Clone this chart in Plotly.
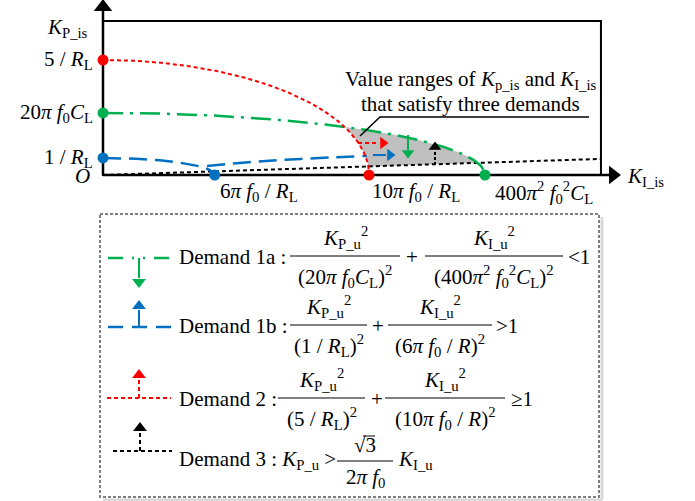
import numpy as np
import plotly.graph_objects as go

# ---------------- data (schematic units) ----------------
kp_tick_values = [5.0, 2.7, 0.74]
kp_tick_labels = ["5 / <i>R</i><sub>L</sub>",
                  "20<i>π f</i><sub>0</sub><i>C</i><sub>L</sub>",
                  "1 / <i>R</i><sub>L</sub>"]
ki_tick_values = [4.2, 10.0, 14.36]
ki_tick_labels = ["6<i>π f</i><sub>0</sub> / <i>R</i><sub>L</sub>",
                  "10<i>π f</i><sub>0</sub> / <i>R</i><sub>L</sub>",
                  "400<i>π</i><sup>2</sup> <i>f</i><sub>0</sub><sup>2</sup><i>C</i><sub>L</sub>"]

# ellipse intercepts (K_I intercept, K_P intercept)
demand1a_ki, demand1a_kp = 14.36, 2.7    # green
demand1b_ki, demand1b_kp = 4.2, 0.74     # blue
demand2_ki, demand2_kp = 10.0, 5.0       # red
demand3_ki = [0.0, 18.72]                # black line
demand3_kp = [0.0, 0.70]
blue_branch_ki = [3.91, 5.56, 7.44, 9.92]
blue_branch_kp = [0.39, 0.565, 0.70, 0.83]
frame_ki, frame_kp = 18.72, 6.7

# ---------------- layout constants (pixels) ----------------
W, H = 695, 501
OX, OY = 103, 175      # origin pixel
SX, SY = 26.6, 23.0    # px per unit

def kx(px):
    return (px - OX) / SX

def ky(py):
    return (OY - py) / SY

RED = "#ff0000"
GREEN = "#00b050"
BLUE = "#0070c0"
BLACK = "#000000"
FONT = "Liberation Serif"
FS = 21

def ellipse(ki0, kp0, n=400):
    t = np.linspace(0, ki0, n)
    return t, kp0 * np.sqrt(np.clip(1 - (t / ki0) ** 2, 0, None))

fig = go.Figure()

# gray region satisfying all demands
t = np.linspace(0, demand1a_ki, 3000)
g = demand1a_kp * np.sqrt(np.clip(1 - (t / demand1a_ki) ** 2, 0, None))
r = np.where(t <= demand2_ki, demand2_kp * np.sqrt(np.clip(1 - (t / demand2_ki) ** 2, 0, None)), 0)
b = np.interp(t, demand3_ki, demand3_kp)
lo = np.maximum(r, b)
m = g > lo
fig.add_trace(go.Scatter(x=np.concatenate([t[m], t[m][::-1]]),
                         y=np.concatenate([lo[m], g[m][::-1]]),
                         fill="toself", fillcolor="rgb(191,191,191)",
                         line=dict(width=0), mode="lines", hoverinfo="skip"))

# frame
fig.add_shape(type="rect", x0=0, y0=0, x1=frame_ki, y1=frame_kp,
              line=dict(color=BLACK, width=2), layer="below")

# axes
fig.add_trace(go.Scatter(x=[0, kx(612)], y=[0, 0], mode="lines",
                         line=dict(color=BLACK, width=2.5)))
fig.add_trace(go.Scatter(x=[0, 0], y=[0, ky(10)], mode="lines",
                         line=dict(color=BLACK, width=2.5)))
fig.add_trace(go.Scatter(x=[kx(613)], y=[0], mode="markers",
                         marker=dict(symbol="triangle-right", size=16, color=BLACK)))
fig.add_trace(go.Scatter(x=[0], y=[ky(7)], mode="markers",
                         marker=dict(symbol="triangle-up", size=16, color=BLACK)))

# demand 3 (black)
fig.add_trace(go.Scatter(x=demand3_ki, y=demand3_kp, mode="lines",
                         line=dict(color=BLACK, width=2, dash="4px,3px")))
# demand 1b (blue)
x1b, y1b = ellipse(demand1b_ki, demand1b_kp)
fig.add_trace(go.Scatter(x=x1b, y=y1b, mode="lines",
                         line=dict(color=BLUE, width=2.5, dash="18px,8px")))
fig.add_trace(go.Scatter(x=blue_branch_ki, y=blue_branch_kp, mode="lines",
                         line=dict(color=BLUE, width=2.5, dash="18px,8px", shape="spline")))
# demand 1a (green)
x1a, y1a = ellipse(demand1a_ki, demand1a_kp)
fig.add_trace(go.Scatter(x=x1a, y=y1a, mode="lines",
                         line=dict(color=GREEN, width=2.5, dash="20px,7px,3px,7px")))
# demand 2 (red)
x2, y2 = ellipse(demand2_ki, demand2_kp)
fig.add_trace(go.Scatter(x=x2, y=y2, mode="lines",
                         line=dict(color=RED, width=2, dash="4px,3px")))

# intercept markers
fig.add_trace(go.Scatter(x=[0, 0, 0] + ki_tick_values,
                         y=kp_tick_values + [0, 0, 0], mode="markers",
                         marker=dict(size=11, color=[RED, GREEN, BLUE, BLUE, RED, GREEN])))

annotations = []

def ann(px, py, text, xa="center", ya="middle", size=FS):
    annotations.append(dict(x=kx(px), y=ky(py), xref="x", yref="y", text=text,
                            showarrow=False, xanchor=xa, yanchor=ya,
                            font=dict(family=FONT, size=size, color=BLACK)))

# axis titles / tick labels
ann(90, 28, "<i>K</i><sub>P_is</sub>", xa="right")
ann(625, 177, "<i>K</i><sub>I_is</sub>", xa="left")
ann(92, 176, "<i>O</i>", xa="right")
for v, lab in zip(kp_tick_values, kp_tick_labels):
    annotations.append(dict(x=kx(95), y=v, xref="x", yref="y", text=lab, showarrow=False,
                            xanchor="right", yanchor="middle",
                            font=dict(family=FONT, size=FS, color=BLACK)))
for v, lab, sh in zip(ki_tick_values, ki_tick_labels, [3, 1, 8]):
    annotations.append(dict(x=v, y=ky(192), xref="x", yref="y", text=lab, showarrow=False,
                            xanchor="left", yanchor="middle", xshift=sh,
                            font=dict(family=FONT, size=FS, color=BLACK)))

# callout
ann(471, 80, "Value ranges of <i>K</i><sub>p_is</sub> and <i>K</i><sub>I_is</sub>")
ann(470, 104, "that satisfy three demands")
fig.add_trace(go.Scatter(x=[kx(360), kx(380), kx(589)], y=[ky(136), ky(117), ky(117)],
                         mode="lines", line=dict(color=BLACK, width=1.5)))

# small arrows
def arrow(p0, p1, head, sym, color, dash=None, size=11):
    fig.add_trace(go.Scatter(x=[kx(p0[0]), kx(p1[0])], y=[ky(p0[1]), ky(p1[1])], mode="lines",
                             line=dict(color=color, width=2, dash=dash)))
    fig.add_trace(go.Scatter(x=[kx(head[0])], y=[ky(head[1])], mode="markers",
                             marker=dict(symbol=sym, size=size, color=color)))

arrow((358, 143), (378, 143), (383, 143), "triangle-right", RED, "4px,3px")
arrow((373, 155), (386, 155), (390, 155), "triangle-right", BLUE)
arrow((408, 135), (408, 150), (408, 153), "triangle-down", GREEN)
arrow((435, 165), (435, 151), (435, 147), "triangle-up", BLACK, "3px,2px")

# ---------------- legend box ----------------
fig.add_shape(type="line", x0=kx(602), y0=ky(217), x1=kx(602), y1=ky(500),
              line=dict(color="#d8d8d8", width=3), layer="below")
fig.add_shape(type="line", x0=kx(103), y0=ky(500), x1=kx(602), y1=ky(500),
              line=dict(color="#d8d8d8", width=3), layer="below")
fig.add_shape(type="rect", x0=kx(100), y0=ky(214), x1=kx(599), y1=ky(497),
              line=dict(color="#7f7f7f", width=2, dash="3px,2px"), layer="below")

# legend samples
fig.add_trace(go.Scatter(x=[kx(108), kx(169)], y=[ky(258), ky(258)], mode="lines",
                         line=dict(color=GREEN, width=2.5,
                                   dash="15px,9px,2px,9px,2px,9px,15px,40px")))
arrow((139, 258), (139, 278), (139, 282), "triangle-down", GREEN, None, 12)
fig.add_trace(go.Scatter(x=[kx(108), kx(172)], y=[ky(327), ky(327)], mode="lines",
                         line=dict(color=BLUE, width=2.5, dash="15px,9px")))
arrow((139, 327), (139, 310), (139, 306), "triangle-up", BLUE, None, 12)
fig.add_trace(go.Scatter(x=[kx(107), kx(171)], y=[ky(398), ky(398)], mode="lines",
                         line=dict(color=RED, width=2, dash="4px,3px")))
arrow((139, 398), (139, 380), (139, 375), "triangle-up", RED, "4px,3px", 12)
fig.add_trace(go.Scatter(x=[kx(113), kx(172)], y=[ky(451), ky(451)], mode="lines",
                         line=dict(color=BLACK, width=2, dash="4px,3px")))
arrow((140, 451), (140, 433), (140, 428), "triangle-up", BLACK, "4px,3px", 12)

KPU2 = "<i>K</i><sub>P_u</sub><sup>2</sup>"
KIU2 = "<i>K</i><sub>I_u</sub><sup>2</sup>"

def frac(x0, x1, ybar, num, den, ny=-19, dy=20):
    fig.add_shape(type="line", x0=kx(x0), x1=kx(x1), y0=ky(ybar), y1=ky(ybar),
                  line=dict(color=BLACK, width=1.2))
    c = (x0 + x1) / 2
    ann(c, ybar + ny, num)
    ann(c, ybar + dy, den)

# Demand 1a
ann(177, 257, "Demand 1a :", xa="left")
frac(290, 400, 256, KPU2, "(20<i>π f</i><sub>0</sub><i>C</i><sub>L</sub>)<sup>2</sup>")
ann(412, 257, "+")
frac(425, 563, 256, KIU2,
     "(400<i>π</i><sup>2</sup> <i>f</i><sub>0</sub><sup>2</sup><i>C</i><sub>L</sub>)<sup>2</sup>")
ann(566, 257, "<1", xa="left")

# Demand 1b
ann(177, 326, "Demand 1b :", xa="left")
frac(290, 367, 325, KPU2, "(1 / <i>R</i><sub>L</sub>)<sup>2</sup>")
ann(378, 326, "+")
frac(388, 492, 325, KIU2, "(6<i>π f</i><sub>0</sub> / <i>R</i>)<sup>2</sup>")
ann(494, 326, ">1", xa="left")

# Demand 2
ann(177, 399, "Demand 2 :", xa="left")
frac(278, 365, 398, KPU2, "(5 / <i>R</i><sub>L</sub>)<sup>2</sup>")
ann(377, 399, "+")
frac(385, 505, 398, KIU2, "(10<i>π f</i><sub>0</sub> / <i>R</i>)<sup>2</sup>")
ann(509, 399, "≥1", xa="left")

# Demand 3
ann(177, 460, "Demand 3 : <i>K</i><sub>P_u</sub> >", xa="left")
frac(337, 393, 461, "√3", "2<i>π f</i><sub>0</sub>", ny=-16, dy=17)
fig.add_shape(type="line", x0=kx(363), x1=kx(375), y0=ky(436), y1=ky(436),
              line=dict(color=BLACK, width=1))
ann(396, 460, "<i>K</i><sub>I_u</sub>", xa="left")

fig.update_layout(
    width=W, height=H, margin=dict(l=0, r=0, t=0, b=0),
    paper_bgcolor="white", plot_bgcolor="white", showlegend=False,
    xaxis=dict(range=[kx(0), kx(W)], visible=False, fixedrange=True),
    yaxis=dict(range=[ky(H), ky(0)], visible=False, fixedrange=True),
    annotations=annotations,
)

fig.write_html("out.html")
